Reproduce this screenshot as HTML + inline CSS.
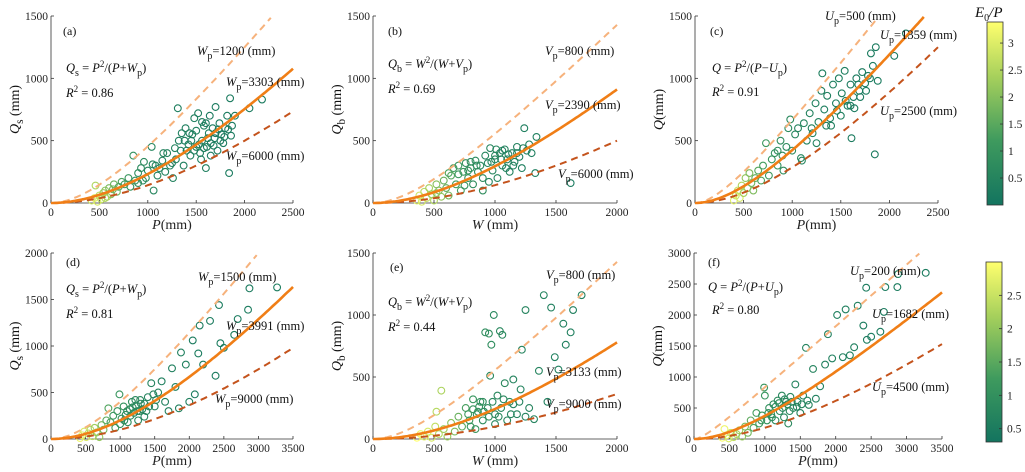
<!DOCTYPE html>
<html><head><meta charset="utf-8">
<style>
body{margin:0;background:#fff;}
svg{display:block;font-family:"Liberation Serif",serif;}
</style></head>
<body>
<svg id="fig" width="1025" height="472" viewBox="0 0 1025 472">
<defs>
<linearGradient id="cmap" x1="0" y1="1" x2="0" y2="0">
<stop offset="0" stop-color="#13745f"/><stop offset="0.35" stop-color="#3e9a5e"/><stop offset="0.7" stop-color="#a6d05c"/><stop offset="1" stop-color="#ffff6e"/>
</linearGradient>
</defs>
</svg>
<script>
// ---------- data ----------
const panelIds=['a','b','c','d','e','f'];
const xMaxes=[2500,2000,2500,3500,2000,3500];
const yMaxes=[1500,1500,1500,2000,1500,3000];
const xTicksA=[0,500,1000,1500,2000,2500];
const xTicksB=[0,500,1000,1500,2000];
const xTicksD=[0,500,1000,1500,2000,2500,3000,3500];
const yTicks1500=[0,500,1000,1500];
const yTicks2000=[0,500,1000,1500,2000];
const yTicks3000=[0,500,1000,1500,2000,2500,3000];
const xTitles=['P(mm)','W (mm)','P(mm)','P(mm)','W (mm)','P(mm)'];
const yTitles=[['Q','s',' (mm)'],['Q','b',' (mm)'],['Q','','(mm)'],['Q','s',' (mm)'],['Q','b',' (mm)'],['Q','','(mm)']];
const paramLow=[1200,800,500,1500,800,200];
const paramFit=[3303,2390,1359,3991,3133,1682];
const paramHigh=[6000,6000,2500,9000,9000,4500];
const r2Values=['0.86','0.69','0.91','0.81','0.44','0.80'];
const cbarTicksTop=[0.5,1,1.5,2,2.5,3];
const cbarTicksBot=[0.5,1,1.5,2,2.5];

const ptsA=[[420,20,2.8],[450,40,3],[480,10,2.9],[500,60,2.6],[520,30,2.7],[540,80,2.3],[560,100,2.2],[580,50,2.4],[600,120,2],[620,70,2.1],[460,140,2.5],[650,150,1.8],[700,130,1.6],[680,90,1.9],[730,170,1.5],[760,150,1.4],[800,200,1.2],[850,380,1.1],[870,180,1.1],[900,240,1],[930,280,0.9],[960,330,0.9],[980,200,0.9],[1000,260,0.8],[1040,450,0.8],[1060,100,0.8],[1080,300,0.8],[1100,220,0.7],[1150,340,0.7],[1180,250,0.7],[1200,400,0.7],[1230,300,0.7],[1260,200,0.7],[1290,350,0.6],[1310,760,0.6],[1320,500,0.6],[1340,420,0.6],[1370,300,0.6],[1390,600,0.6],[1420,470,0.6],[1440,380,0.6],[1460,550,0.6],[1480,680,0.6],[1500,450,0.6],[1520,720,0.6],[1540,400,0.6],[1560,500,0.6],[1580,620,0.6],[1600,280,0.6],[1610,450,0.6],[1630,560,0.6],[1650,480,0.6],[1670,600,0.5],[1690,520,0.5],[1700,770,0.5],[1720,420,0.5],[1740,640,0.5],[1760,550,0.5],[1780,480,0.5],[1800,600,0.5],[1820,700,0.5],[1840,240,0.5],[1850,840,0.5],[1870,620,0.5],[1650,380,0.5],[1550,350,0.6],[1450,500,0.6],[1350,560,0.6],[2050,760,0.5],[2180,830,0.5],[1900,700,0.5],[1750,500,0.5],[1600,640,0.5],[1400,420,0.6],[1500,580,0.6],[1700,560,0.5],[1250,320,0.7],[1120,280,0.7],[950,180,0.9],[1430,560,0.6],[1480,420,0.6],[1530,470,0.6],[1580,440,0.6],[1620,520,0.6],[1680,460,0.5],[1730,590,0.5],[1790,530,0.5],[1830,590,0.5],[1860,540,0.5],[1640,700,0.5],[1560,650,0.6],[1380,500,0.6],[1280,440,0.7],[1160,400,0.7],[1050,310,0.8],[900,160,1],[820,130,1.1],[640,110,1.9],[560,40,2.5]];
const ptsB=[[360,20,3],[380,60,2.8],[400,10,2.9],[420,90,2.6],[440,40,2.7],[460,120,2.4],[480,70,2.3],[500,20,2.5],[520,150,2.1],[540,100,2],[560,50,2.2],[580,180,1.8],[600,120,1.7],[620,60,1.9],[640,220,1.6],[660,280,1.4],[680,150,1.4],[700,300,1.3],[720,100,1.4],[740,250,1.2],[760,320,1.1],[780,200,1.1],[800,280,1],[820,150,1],[840,340,0.9],[860,250,0.9],[880,300,0.9],[900,200,0.9],[920,380,0.8],[940,320,0.8],[960,440,0.8],[980,260,0.8],[1000,350,0.8],[1020,200,0.8],[1040,400,0.7],[1060,300,0.7],[1080,430,0.7],[1100,350,0.7],[1120,250,0.7],[1140,400,0.7],[1160,330,0.7],[1180,450,0.7],[1200,370,0.6],[1220,280,0.6],[1240,600,0.6],[1260,420,0.6],[1280,470,0.6],[1300,400,0.6],[1330,240,0.6],[1340,530,0.6],[1620,160,0.5],[700,230,1.3],[850,300,1],[1050,350,0.7],[950,170,0.8],[1150,300,0.7],[750,140,1.2],[900,100,1],[1010,430,0.8],[620,240,1.5],[520,80,2.2],[1000,380,0.8],[1060,420,0.7],[1110,390,0.7],[1180,400,0.7],[1230,440,0.6],[800,330,1],[780,260,1.1],[1090,280,0.7],[970,330,0.8]];
const ptsC=[[400,20,3],[420,60,2.8],[440,100,2.7],[460,40,2.9],[480,140,2.5],[500,80,2.4],[520,200,2.2],[540,120,2.2],[560,240,2],[580,160,1.9],[600,100,2],[620,200,1.7],[650,260,1.6],[680,180,1.5],[700,300,1.4],[730,480,1.3],[760,220,1.3],[790,350,1.2],[820,400,1.1],[850,300,1.1],[880,500,1],[910,260,1],[940,450,0.9],[960,600,0.9],[980,670,0.9],[1000,420,0.9],[1030,550,0.8],[1060,600,0.8],[1090,360,0.8],[1120,640,0.8],[1150,500,0.7],[1180,720,0.7],[1210,560,0.7],[1240,800,0.7],[1270,650,0.7],[1300,900,0.6],[1310,1040,0.6],[1330,750,0.6],[1360,860,0.6],[1390,680,0.6],[1420,950,0.6],[1450,800,0.6],[1480,1000,0.6],[1510,880,0.6],[1540,1060,0.6],[1570,780,0.6],[1600,950,0.5],[1610,520,0.5],[1630,850,0.5],[1660,1000,0.5],[1690,900,0.5],[1720,1050,0.5],[1750,960,0.5],[1780,1020,0.5],[1810,1200,0.5],[1830,1100,0.5],[1850,390,0.5],[1860,1250,0.5],[1880,980,0.5],[2050,1180,0.5],[2170,1360,0.5],[1550,820,0.6],[1400,620,0.6],[1700,850,0.5],[1250,480,0.7],[1100,340,0.8],[1600,780,0.5],[1640,760,0.5],[1680,950,0.5],[1760,900,0.5],[1800,1000,0.5],[1460,740,0.6],[1500,700,0.6],[1350,620,0.6],[1200,600,0.7],[900,380,1],[850,420,1]];
const ptsD=[[420,10,2.8],[450,40,2.7],[480,80,2.6],[510,20,2.6],[540,60,2.4],[570,100,2.3],[600,30,2.3],[630,120,2.1],[660,70,2],[700,20,2],[730,150,1.8],[760,100,1.7],[800,200,1.5],[830,330,1.4],[860,180,1.3],[900,250,1.2],[930,120,1.2],[960,300,1.1],[990,480,1.1],[1020,220,1],[1050,350,1],[1080,260,0.9],[1110,180,0.9],[1140,320,0.9],[1170,400,0.9],[1200,280,0.8],[1230,360,0.8],[1260,200,0.8],[1290,420,0.8],[1320,320,0.8],[1350,240,0.7],[1400,450,0.7],[1450,600,0.7],[1500,350,0.7],[1550,500,0.7],[1600,620,0.6],[1650,400,0.6],[1700,300,0.6],[1750,760,0.6],[1800,560,0.6],[1850,330,0.6],[1880,930,0.6],[1950,800,0.6],[2000,400,0.6],[2050,1060,0.5],[2080,480,0.5],[2130,920,0.5],[2150,1220,0.5],[2200,800,0.5],[2300,1270,0.5],[2380,680,0.5],[2430,1440,0.5],[2450,1030,0.5],[2500,980,0.5],[2650,1120,0.5],[2700,1290,0.5],[2850,1390,0.5],[2870,1620,0.5],[3270,1630,0.5],[1150,250,0.9],[1250,300,0.8],[1350,380,0.8],[1000,160,1],[1180,340,0.9],[1220,420,0.8],[1280,300,0.8],[1300,380,0.8],[1100,300,0.9],[1060,200,0.9],[1380,300,0.7],[1420,350,0.7],[1480,480,0.7],[1520,420,0.7]];
const ptsE=[[360,10,3],[390,40,2.8],[420,20,2.7],[450,60,2.6],[480,10,2.6],[510,100,2.4],[520,220,2.3],[540,40,2.3],[560,390,2.2],[580,80,2.1],[610,20,2],[640,130,1.9],[670,60,1.8],[700,180,1.6],[730,100,1.5],[760,250,1.3],[790,150,1.2],[820,320,1.1],[840,80,1.1],[860,220,1],[880,300,1],[900,150,0.9],[920,860,0.9],[940,250,0.9],[950,850,0.9],[960,510,0.8],[970,760,0.9],[990,1000,0.8],[1000,200,0.8],[1020,350,0.8],[1040,870,0.8],[1060,840,0.8],[1080,450,0.8],[1100,150,0.8],[1120,300,0.8],[1150,480,0.7],[1180,200,0.7],[1210,400,0.7],[1220,720,0.7],[1250,1040,0.7],[1280,250,0.7],[1320,160,0.7],[1360,550,0.7],[1400,1160,0.7],[1430,300,0.6],[1460,1060,0.6],[1490,660,0.6],[1520,560,0.6],[1560,930,0.6],[1580,760,0.6],[1620,860,0.6],[1640,1040,0.6],[1710,1160,0.6],[850,200,1],[900,300,0.9],[1000,120,0.8],[1050,250,0.8],[950,180,0.9],[1150,280,0.7],[800,100,1.1],[870,260,1],[910,220,0.9],[980,300,0.8],[1030,180,0.8],[1070,320,0.8],[1130,200,0.7],[1200,300,0.7],[1250,180,0.7],[820,240,1.1],[780,200,1.2]];
const ptsF=[[400,20,2.9],[430,160,2.8],[460,60,2.7],[490,10,2.6],[520,100,2.5],[560,30,2.4],[600,80,2.2],[640,140,2.1],[680,40,2],[720,200,1.8],[760,100,1.7],[800,300,1.5],[840,180,1.4],[880,420,1.3],[920,250,1.2],[960,380,1.1],[990,830,1.1],[1000,700,1.1],[1030,300,1],[1060,500,1],[1090,400,1],[1120,560,0.9],[1150,300,0.9],[1180,620,0.9],[1210,450,0.9],[1240,700,0.8],[1270,350,0.8],[1300,600,0.8],[1330,250,0.8],[1360,680,0.8],[1400,500,0.8],[1430,880,0.7],[1460,600,0.7],[1500,420,0.7],[1540,700,0.7],[1580,1470,0.7],[1620,550,0.7],[1680,1130,0.7],[1720,650,0.6],[1780,850,0.6],[1850,1200,0.6],[1890,1690,0.6],[1950,1300,0.6],[2020,2000,0.6],[2100,1320,0.6],[2140,2090,0.6],[2200,1350,0.6],[2260,1480,0.6],[2310,2150,0.6],[2390,1830,0.5],[2430,2440,0.5],[2440,1600,0.5],[2500,1650,0.5],[2630,1730,0.5],[2680,2050,0.5],[2700,2450,0.5],[2870,2450,0.5],[2880,2660,0.5],[3270,2680,0.5],[1100,350,0.9],[1250,500,0.8],[1350,450,0.8],[1150,520,0.9],[1200,580,0.9],[1280,640,0.8],[1320,560,0.8],[1380,600,0.8],[1450,520,0.7],[1520,560,0.7],[1600,620,0.7],[1050,420,1],[950,300,1.1]];
const allPts=[ptsA,ptsB,ptsC,ptsD,ptsE,ptsF];

// ---------- layout ----------
const NS='http://www.w3.org/2000/svg';
const svg=document.getElementById('fig');
const boxes=[[51,293,16,203],[373,617,16,203],[695,938,16,203],[51,293,253,439],[373,617,253,439],[694,942,253,439]];
const xTickSets=[xTicksA,xTicksB,xTicksA,xTicksD,xTicksB,xTicksD];
const yTickSets=[yTicks1500,yTicks1500,yTicks1500,yTicks2000,yTicks1500,yTicks3000];
function mk(tag,attrs,parent){const e=document.createElementNS(NS,tag);for(const k in attrs)e.setAttribute(k,attrs[k]);(parent||svg).appendChild(e);return e;}
function cmapColor(c,lo,hi){
  let t=Math.max(0,Math.min(1,(c-lo)/(hi-lo)));
  const stops=[[0,[19,116,95]],[0.35,[62,154,94]],[0.7,[166,208,92]],[1,[255,255,110]]];
  for(let i=1;i<stops.length;i++){if(t<=stops[i][0]){const a=stops[i-1],b=stops[i];const u=(t-a[0])/(b[0]-a[0]);const col=a[1].map((v,j)=>Math.round(v+(b[1][j]-v)*u));return 'rgb('+col.join(',')+')';}}
  return 'rgb(255,255,110)';
}
const ann=[
 [[63,35],[66,72],[66,97],[197,55],[226,86],[226,160]],
 [[388,35],[388,68],[388,93],[545,55],[545,109],[558,178]],
 [[710,35],[712,72],[712,96],[825,20],[880,39],[880,115]],
 [[66,266],[66,293],[66,318],[198,281],[226,330],[215,403]],
 [[390,271],[388,306],[388,331],[546,279],[546,376],[546,408]],
 [[708,266],[708,291],[712,314],[850,275],[872,318],[872,391]]
];
const sym=['W','V','U','W','V','U'];
const varSym=['P','W','P','P','W','P'];
const lhs=[['Q','s'],['Q','b'],['Q',''],['Q','s'],['Q','b'],['Q','']];
const ops=['+','+','−','+','+','+'];
const FS=12.5;

function subText(parent,x,y,main,sub,rest,size,italicMain){
  const t=mk('text',{x:x,y:y,'font-size':size,fill:'#111'},parent);
  const a=mk('tspan',{'font-style':italicMain?'italic':'normal'},t);a.textContent=main;
  if(sub){const s=mk('tspan',{dy:4,'font-size':size*0.8},t);s.textContent=sub;const r=mk('tspan',{dy:-4},t);r.textContent=rest;}
  else{const r=mk('tspan',{},t);r.textContent=rest;}
  return t;
}

for(let p=0;p<6;p++){
  const [x0,x1,yT,yB]=boxes[p];
  const g=mk('g',{});
  
  
  const sx=v=>x0+v/xMaxes[p]*(x1-x0);
  const sy=v=>yB-v/yMaxes[p]*(yB-yT);
  const ax=mk('path',{d:`M${x0},${yT}V${yB}H${x1}`,stroke:'#333',fill:'none','stroke-width':0.8},g);
  
  
  xTickSets[p].forEach(v=>{
    mk('line',{x1:sx(v),x2:sx(v),y1:yB,y2:yB-3,stroke:'#333','stroke-width':0.8},g);
    const t=mk('text',{x:sx(v),y:yB+13,'font-size':11.5,'text-anchor':'middle',fill:'#222'},g);t.textContent=v;
    
    
  });
  yTickSets[p].forEach(v=>{
    mk('line',{x1:x0,x2:x0+3,y1:sy(v),y2:sy(v),stroke:'#333','stroke-width':0.8},g);
    const t=mk('text',{x:x0-3,y:sy(v)+4,'font-size':11.5,'text-anchor':'end',fill:'#222'},g);t.textContent=v;
    
    
  });
  const xt=mk('text',{x:(x0+x1)/2,y:yB+26,'font-size':14,'text-anchor':'middle',fill:'#222'},g);
  const xs=xTitles[p];
  const xi=mk('tspan',{'font-style':'italic'},xt);xi.textContent=xs[0];
  const xr=mk('tspan',{},xt);xr.textContent=xs.slice(1);
  
  
  const ytg=mk('g',{transform:`translate(${x0-32},${(yT+yB)/2}) rotate(-90)`},g);
  const yt=subText(ytg,0,0,yTitles[p][0],yTitles[p][1],yTitles[p][2],14,true);
  yt.setAttribute('text-anchor','middle');
  
  
  const cLo=0.3, cHi=p<3?3.3:2.95;
  allPts[p].forEach(pt=>{
    const c=mk('circle',{cx:sx(pt[0]),cy:sy(pt[1]),r:3.4,fill:'none',stroke:cmapColor(pt[2],cLo,cHi),'stroke-width':1.1},g);
    
    
  });
  function curve(param,color,width,dash,name){
    let d='';const n=120;
    for(let i=0;i<=n;i++){const v=xMaxes[p]*i/n;const q=v*v/(v+param);if(q>yMaxes[p])break;d+=(i?'L':'M')+sx(v).toFixed(1)+','+sy(q).toFixed(1);}
    const e=mk('path',{d:d,stroke:color,'stroke-width':width,fill:'none','stroke-dasharray':dash||'none'},g);
    
    
  }
  curve(paramLow[p],'#f6b27c',2,'7,5','curve-low');
  curve(paramHigh[p],'#c4531c',2,'7,5','curve-high');
  curve(paramFit[p],'#f07e16',2.6,null,'curve-fit');
  const A=ann[p];
  const lab=mk('text',{x:A[0][0],y:A[0][1],'font-size':12,fill:'#111'},g);lab.textContent='('+panelIds[p]+')';
  
  
  const f=mk('text',{x:A[1][0],y:A[1][1],'font-size':FS,fill:'#111'},g);
  
  
  const parts=[[lhs[p][0],'it'],[lhs[p][1],'sub'],[' = ',''],[varSym[p],'it'],['2','sup'],['/(',''],[varSym[p],'it'],[ops[p],''],[sym[p],'it'],['p','sub'],[')','']];
  let dyAcc=0;
  parts.forEach(pp=>{if(!pp[0])return;const s=mk('tspan',{},f);let target=0,fs=FS;if(pp[1]==='sub'){target=4;fs=10;}if(pp[1]==='sup'){target=-5;fs=9;}s.setAttribute('dy',target-dyAcc);dyAcc=target;s.setAttribute('font-size',fs);if(pp[1]==='it')s.setAttribute('font-style','italic');s.textContent=pp[0];});
  const r=mk('text',{x:A[2][0],y:A[2][1],'font-size':FS,fill:'#111'},g);
  
  
  const r1=mk('tspan',{'font-style':'italic'},r);r1.textContent='R';
  const r2=mk('tspan',{dy:-5,'font-size':9},r);r2.textContent='2';
  const r3=mk('tspan',{dy:5},r);r3.textContent=' = '+r2Values[p];
  [[A[3],paramLow[p]],[A[4],paramFit[p]],[A[5],paramHigh[p]]].forEach(q=>{
    const t=subText(g,q[0][0],q[0][1],sym[p],'p','='+q[1]+' (mm)',FS,true);
    
    
  });
}
[[987,1003,22,205,0,3.39,cbarTicksTop],[986,1002,262,442,0.3,3.0,cbarTicksBot]].forEach((cb,i)=>{
  const [x0,x1,yT,yB,lo,hi,ticks]=cb;
  const rct=mk('rect',{x:x0,y:yT,width:x1-x0,height:yB-yT,fill:'url(#cmap)',stroke:'#333','stroke-width':0.8});
  
  
  ticks.forEach(v=>{
    const y=yB-(v-lo)/(hi-lo)*(yB-yT);
    mk('line',{x1:x1-3,x2:x1,y1:y,y2:y,stroke:'#333','stroke-width':0.8});
    const t=mk('text',{x:x1+5,y:y+4,'font-size':11.5,fill:'#222'});t.textContent=v;
    
    
  });
});
const ct=mk('text',{x:975,y:17,'font-size':15,fill:'#111','font-style':'italic'});


const c1=mk('tspan',{},ct);c1.textContent='E';
const c2=mk('tspan',{dy:4,'font-size':10,'font-style':'normal'},ct);c2.textContent='0';
const c3=mk('tspan',{dy:-4},ct);c3.textContent='/P';
</script>
</body></html>
